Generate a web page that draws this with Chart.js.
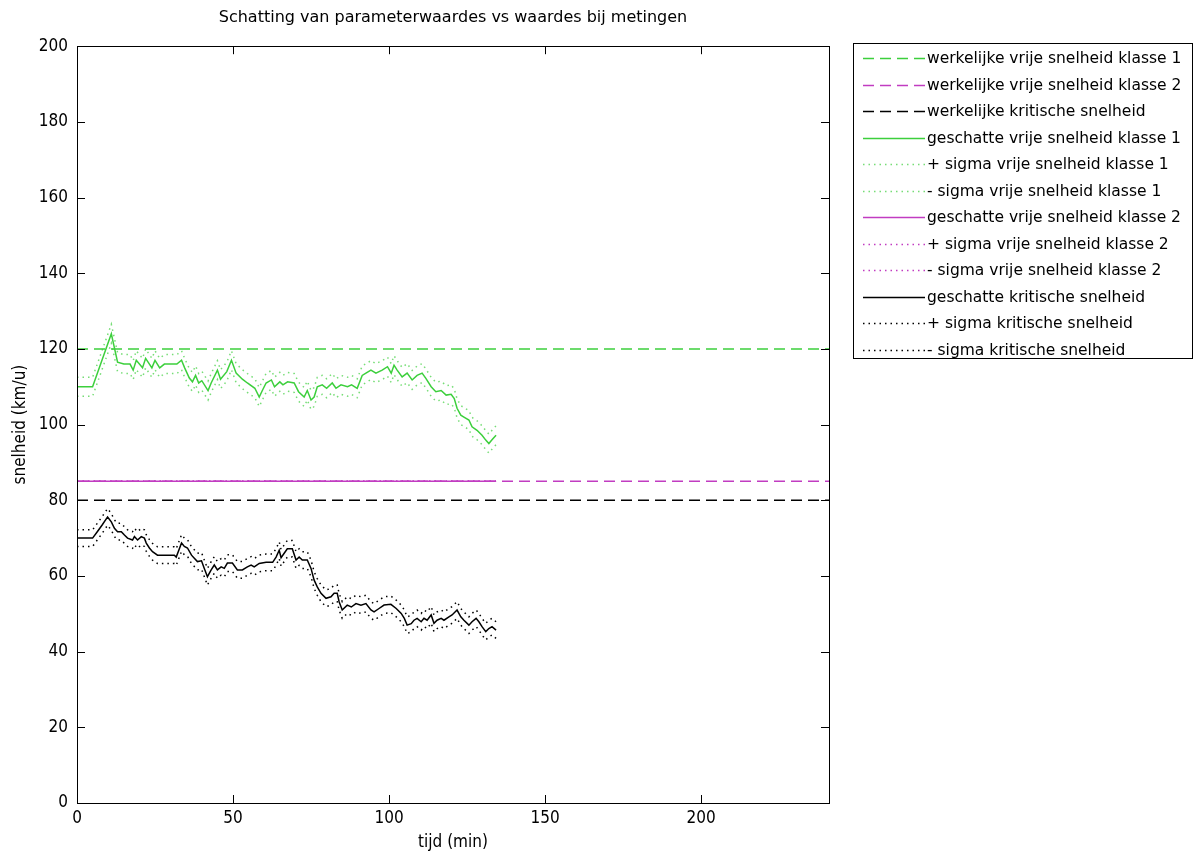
<!DOCTYPE html>
<html>
<head>
<meta charset="utf-8">
<title>Schatting van parameterwaardes</title>
<script src="https://cdn.jsdelivr.net/npm/chart.js@4/dist/chart.umd.min.js"></script>
<style>
  html, body { margin: 0; padding: 0; background: #fff; }
  canvas { display: block; }
</style>
</head>
<body>
<canvas id="grafiek" width="1200" height="857"></canvas>
<script>
// tijdas (min) en geschatte snelheden (km/u)
const tijdMax = 241;
const tijdKlasse1 = [0, 5, 11, 13, 15, 17, 18, 19, 21, 22, 24, 25, 26.5, 28, 32, 33.5, 34.5, 36, 37, 38, 39, 40, 42, 43, 45, 46, 48, 49.5,
  51, 53, 54.6, 57, 58.4, 59.4, 60.6, 62.3, 63.3, 65, 66, 67.5, 69.6, 71, 72.8, 73.8, 75, 76, 77, 78.6, 80, 81.8, 83, 84.6, 86.7, 88,
  89.8, 91.4, 92.6, 94.2, 95.8, 97.8, 99.5, 100.7, 101.6, 102.6, 104.2, 105.8, 107.4, 109, 110.6, 111.8, 113.5, 115, 116.7, 118.3,
  119.9, 120.9, 121.8, 123, 124, 125.6, 126.6, 128.2, 129.8, 131, 132, 133, 134.3];
const schattingKlasse1 = [110, 110, 124, 116.5, 116, 116, 114.4, 117, 115, 117.5, 115, 117, 115, 116, 116, 117, 115, 112.3, 111.3, 113, 111, 111.6, 109, 111, 114.4, 112, 114, 117,
  113.6, 112, 111, 109.6, 107.3, 109, 111, 111.8, 110, 111.3, 110.5, 111.3, 111, 108.7, 107.3, 109, 106.5, 107.3, 110, 110.5, 109.6, 111, 109.6, 110.5, 110, 110.5,
  109.6, 113, 113.6, 114.4, 113.6, 114.4, 115.3, 113.6, 115.7, 114.4, 112.6, 113.6, 111.8, 113, 113.6, 112.2, 110, 108.7, 109, 107.8,
  108, 106.9, 104.3, 102.5, 102, 101.2, 99.4, 98.5, 97.2, 95.9, 95, 96, 97.2];

const tijdKritisch = [0, 5, 6.5, 8, 9.8, 11, 12, 13, 14.2, 15.2, 16.2, 17.8, 18.4, 19.4, 20.6, 21.6, 22.2, 23.2, 24.2, 25.8, 31.2, 31.8, 33.5,
  34.4, 35.4, 36.7, 37.6, 38.6, 39.9, 40.8, 41.8, 43, 44, 45, 46.2, 47.2, 48.2, 49.8, 51.4, 53, 54.6, 55.8, 56.8, 58.4, 60.6, 62.7, 63.8,
  64.8, 65.4, 66.4, 67.4, 69, 70.2, 71.2, 72.2, 73.8, 75, 76, 77, 78.2, 79.8, 81.4, 82.4, 83.4, 84, 85, 86.6, 87.9, 89.4, 91, 92.6, 94.2,
  95.2, 96.8, 98.4, 100.6, 102.3, 103.9, 104.9, 105.8, 107.1, 108, 109, 110.3, 111.2, 112.2, 113.5, 114.4, 115.4, 116.7, 117.6, 119.2,
  120.2, 121.8, 123, 124, 125.6, 126.6, 127.9, 128.8, 129.8, 131, 132, 133, 134.3];
const schattingKritisch = [70, 70, 71.7, 73.4, 75.6, 74.3, 72.6, 71.7, 71.7, 70.8, 70, 69.5, 70.4, 69.5, 70.4, 70, 68.7, 67.4, 66.4, 65.5, 65.5, 65, 68.7,
  67.8, 67.4, 65.5, 64.7, 63.8, 64, 62, 59.8, 61.6, 62.9, 61.6, 62.4, 62, 63.4, 63.4, 61.6, 61.6, 62.4, 62.9, 62.4, 63.3, 63.6, 63.6, 65,
  66.8, 64.8, 66, 67.2, 67.2, 64.2, 65, 64.2, 64.2, 62, 58.9, 57.1, 55.4, 54.1, 54.5, 55.4, 55.4, 53.2, 51, 52.3, 51.8, 52.7, 52.3, 52.7, 51,
  50.5, 51.4, 52.3, 52.5, 51.4, 50.1, 48.8, 47, 47.4, 48.3, 48.8, 47.9, 48.8, 48.3, 49.7, 47.5, 48.3, 48.8, 48.3, 49.2,
  49.7, 51, 49.2, 48.3, 47, 47.9, 48.8, 47.9, 46.6, 45.3, 46.1, 46.6, 45.7];

// klasse 2 wordt over de hele meetperiode constant geschat
const tijdEindMeting = 134.3;
const schattingKlasse2 = 85;

// werkelijke parameterwaardes
const werkelijkKlasse1 = 120;
const werkelijkKlasse2 = 85;
const werkelijkKritisch = 80;

// standaardafwijking van de schattingen
const sigmaKlasse1 = 2.5;
const sigmaKlasse2 = 0;
const sigmaKritisch = 2.2;

const legendaTeksten = [
  'werkelijke vrije snelheid klasse 1',
  'werkelijke vrije snelheid klasse 2',
  'werkelijke kritische snelheid',
  'geschatte vrije snelheid klasse 1',
  '+ sigma vrije snelheid klasse 1',
  '- sigma vrije snelheid klasse 1',
  'geschatte vrije snelheid klasse 2',
  '+ sigma vrije snelheid klasse 2',
  '- sigma vrije snelheid klasse 2',
  'geschatte kritische snelheid',
  '+ sigma kritische snelheid',
  '- sigma kritische snelheid'
];

const GROEN = '#3ccf3c';
const GROEN_STIP = 'rgba(60,207,60,0.7)';
const MAGENTA = '#c13cc1';
const ZWART = '#000000';
const STREEP = [11, 6];
const STIP = [1.5, 4];
const smalFont = "'Liberation Sans Narrow', 'DejaVu Sans Condensed', 'Liberation Sans', sans-serif";
const breedFont = "'DejaVu Sans', 'Liberation Sans', sans-serif";

const punten = (tijd, waarden, d = 0) => tijd.map((t, i) => ({ x: t, y: waarden[i] + d }));
const constant = (v, tot) => [{ x: 0, y: v }, { x: tot, y: v }];

function lijn(label, data, kleur, dash) {
  return {
    label,
    data,
    borderColor: kleur,
    backgroundColor: kleur,
    borderWidth: 1.5,
    borderDash: dash,
    pointRadius: 0,
    tension: 0,
    fill: false
  };
}

const datasets = [
  lijn(legendaTeksten[0], constant(werkelijkKlasse1, tijdMax), GROEN, STREEP),
  lijn(legendaTeksten[1], constant(werkelijkKlasse2, tijdMax), MAGENTA, STREEP),
  lijn(legendaTeksten[2], constant(werkelijkKritisch, tijdMax), ZWART, STREEP),
  lijn(legendaTeksten[3], punten(tijdKlasse1, schattingKlasse1), GROEN, []),
  lijn(legendaTeksten[4], punten(tijdKlasse1, schattingKlasse1, sigmaKlasse1), GROEN_STIP, STIP),
  lijn(legendaTeksten[5], punten(tijdKlasse1, schattingKlasse1, -sigmaKlasse1), GROEN_STIP, STIP),
  lijn(legendaTeksten[6], constant(schattingKlasse2, tijdEindMeting), MAGENTA, []),
  lijn(legendaTeksten[7], constant(schattingKlasse2 + sigmaKlasse2, tijdEindMeting), MAGENTA, STIP),
  lijn(legendaTeksten[8], constant(schattingKlasse2 - sigmaKlasse2, tijdEindMeting), MAGENTA, STIP),
  lijn(legendaTeksten[9], punten(tijdKritisch, schattingKritisch), ZWART, []),
  lijn(legendaTeksten[10], punten(tijdKritisch, schattingKritisch, sigmaKritisch), ZWART, STIP),
  lijn(legendaTeksten[11], punten(tijdKritisch, schattingKritisch, -sigmaKritisch), ZWART, STIP)
];

// kader rond het assenstelsel met naar binnen gerichte tickstreepjes
const kader = {
  id: 'kader',
  afterDatasetsDraw(chart) {
    const { ctx, chartArea: a, scales: { x, y } } = chart;
    const len = 8;
    ctx.save();
    ctx.strokeStyle = '#000';
    ctx.lineWidth = 1;
    ctx.setLineDash([]);
    ctx.strokeRect(Math.round(a.left) + 0.5, Math.round(a.top) + 0.5, Math.round(a.width), Math.round(a.height));
    ctx.beginPath();
    x.ticks.forEach(t => {
      const px = Math.round(x.getPixelForValue(t.value)) + 0.5;
      ctx.moveTo(px, a.bottom); ctx.lineTo(px, a.bottom - len);
      ctx.moveTo(px, a.top); ctx.lineTo(px, a.top + len);
    });
    y.ticks.forEach(t => {
      const py = Math.round(y.getPixelForValue(t.value)) + 0.5;
      ctx.moveTo(a.left, py); ctx.lineTo(a.left + len, py);
      ctx.moveTo(a.right, py); ctx.lineTo(a.right - len, py);
    });
    ctx.stroke();
    ctx.restore();
  }
};

// legenda rechts naast de grafiek
const legenda = {
  id: 'legenda',
  afterDraw(chart) {
    const { ctx } = chart;
    const box = { x: 853, y: 43, w: 339, h: 315 };
    const rij0 = 58, rijHoogte = 26.5;
    ctx.save();
    ctx.fillStyle = '#fff';
    ctx.fillRect(box.x, box.y, box.w, box.h);
    ctx.strokeStyle = '#000';
    ctx.lineWidth = 1;
    ctx.setLineDash([]);
    ctx.strokeRect(box.x + 0.5, box.y + 0.5, box.w, box.h);
    ctx.font = '15.5px ' + breedFont;
    ctx.textBaseline = 'middle';
    ctx.fillStyle = '#000';
    chart.data.datasets.forEach((ds, i) => {
      const yy = Math.round(rij0 + i * rijHoogte) + 0.5;
      ctx.strokeStyle = ds.borderColor;
      ctx.lineWidth = ds.borderWidth;
      ctx.setLineDash(ds.borderDash);
      ctx.beginPath();
      ctx.moveTo(863, yy);
      ctx.lineTo(925, yy);
      ctx.stroke();
      ctx.fillText(ds.label, 927, yy);
    });
    ctx.restore();
  }
};

new Chart(document.getElementById('grafiek'), {
  type: 'line',
  data: { datasets },
  plugins: [kader, legenda],
  options: {
    responsive: false,
    animation: false,
    events: [],
    layout: { padding: { left: 0, right: 371, top: 0, bottom: 0 } },
    plugins: {
      legend: { display: false },
      tooltip: { enabled: false },
      title: {
        display: true,
        text: 'Schatting van parameterwaardes vs waardes bij metingen',
        color: '#000',
        fullSize: false,
        font: { family: breedFont, size: 16, weight: 'normal' },
        padding: { top: 8, bottom: 19 }
      }
    },
    scales: {
      x: {
        type: 'linear',
        min: 0,
        max: tijdMax,
        grid: { display: false, drawTicks: false },
        border: { display: false },
        afterBuildTicks: s => { s.ticks = s.ticks.filter(t => t.value % 50 === 0); },
        afterFit: s => { s.height = 54; },
        ticks: {
          stepSize: 50,
          autoSkip: false,
          maxRotation: 0,
          padding: 5,
          color: '#000',
          font: { family: smalFont, size: 17 }
        },
        title: {
          display: true,
          text: 'tijd (min)',
          color: '#000',
          font: { family: smalFont, size: 17 },
          padding: { top: 0, bottom: 4 }
        }
      },
      y: {
        type: 'linear',
        min: 0,
        max: 200,
        grid: { display: false, drawTicks: false },
        border: { display: false },
        afterFit: s => { s.width = 77; },
        ticks: {
          stepSize: 20,
          autoSkip: false,
          padding: 9,
          color: '#000',
          font: { family: smalFont, size: 17 }
        },
        title: {
          display: true,
          text: 'snelheid (km/u)',
          color: '#000',
          font: { family: smalFont, size: 17 },
          padding: { top: 10, bottom: 0 }
        }
      }
    }
  }
});
</script>
</body>
</html>
